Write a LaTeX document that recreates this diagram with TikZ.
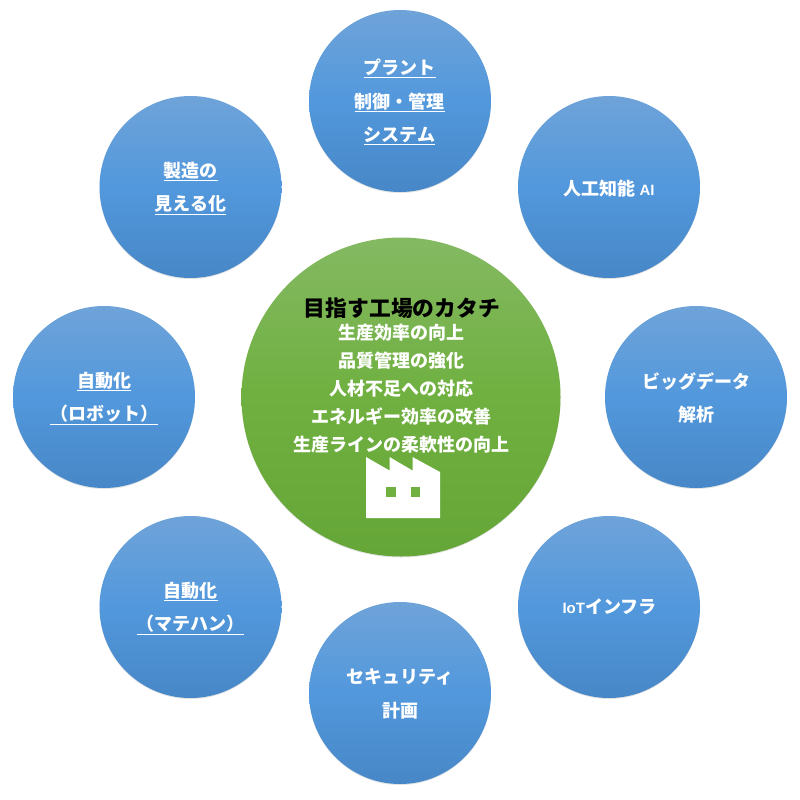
\documentclass[tikz,border=0pt]{standalone}
\usepackage{fontspec}
\setmainfont{Liberation Sans}
\newfontfamily\cjk{Noto Sans CJK JP}
\newfontfamily\latinb{Liberation Sans}
\definecolor{bbot}{HTML}{4787C7}
\definecolor{bmid}{HTML}{5298DC}
\definecolor{btop}{HTML}{6FA3D9}
\definecolor{gbot}{HTML}{65A638}
\definecolor{gmid}{HTML}{6FB040}
\definecolor{gtop}{HTML}{84B962}
\definecolor{shadowc}{HTML}{808080}
\pgfdeclareverticalshading{bluegrad}{100bp}{color(0bp)=(bbot); color(25bp)=(bbot); color(50bp)=(bmid); color(75bp)=(btop); color(100bp)=(btop)}
\pgfdeclareverticalshading{greengrad}{100bp}{color(0bp)=(gbot); color(25bp)=(gbot); color(50bp)=(gmid); color(75bp)=(gtop); color(100bp)=(gtop)}
\newcommand{\ul}[1]{\underline{#1}}
\newcommand{\smalltext}[1]{{\latinb\bfseries\fontsize{15}{33.5}\selectfont #1}}
\tikzset{
  softshadow/.style={preaction={fill=shadowc,fill opacity=.22,transform canvas={yshift=-1pt}}},
  bluecircle/.style={circle,inner sep=0pt,minimum size=182pt,shading=bluegrad,softshadow},
  bluelabel/.style={inner sep=0pt,text=white,align=center,font=\cjk\bfseries\fontsize{18}{33.5}\selectfont},
  greencircle/.style={circle,inner sep=0pt,minimum size=319pt,shading=greengrad,softshadow},
  titletext/.style={inner sep=0pt,text=black,font=\cjk\bfseries\fontsize{21.8}{26}\selectfont},
  bodytext/.style={inner sep=0pt,text=white,align=center,font=\cjk\bfseries\fontsize{18}{28}\selectfont},
}
\begin{document}
\begin{tikzpicture}[x=1pt,y=-1pt]
\useasboundingbox (0,0) rectangle (800,800);
\fill[white] (0,0) rectangle (800,800);
\node[greencircle] (center) at (401,397) {};
\node[titletext] (title) at (402,308.5) {目指す工場のカタチ};
\node[bodytext] (body) at (401.5,389) {生産効率の向上\\品質管理の強化\\人材不足への対応\\エネルギー効率の改善\\生産ラインの柔軟性の向上};
\fill[white] (366,457) -- (389.5,470.5) -- (389.5,457) -- (412.5,470.5) -- (412.5,457) -- (440,472) -- (440,518) -- (366,518) -- cycle;
\fill[gmid] (386,487) rectangle (395.5,497);
\fill[gmid] (410.5,487) rectangle (420,497);
\node[bluecircle] (plant) at (400,101) {};
\node[bluelabel] (plantlabel) at (399.5,102) {\ul{プラント}\\\ul{制御・管理}\\\ul{システム}};
\node[bluecircle] (ai) at (609,187) {};
\node[bluelabel] (ailabel) at (609,189) {人工知能 \smalltext{AI}};
\node[bluecircle] (bigdata) at (696,397) {};
\node[bluelabel] (bigdatalabel) at (696,398) {ビッグデータ\\解析};
\node[bluecircle] (iot) at (609,607) {};
\node[bluelabel] (iotlabel) at (609.5,606.5) {\smalltext{IoT}インフラ};
\node[bluecircle] (security) at (400,693) {};
\node[bluelabel] (securitylabel) at (400,694) {セキュリティ\\計画};
\node[bluecircle] (matehan) at (190.5,607) {};
\node[bluelabel] (matehanlabel) at (190.5,608) {\ul{自動化}\\\ul{（マテハン）}};
\node[bluecircle] (robot) at (104,397) {};
\node[bluelabel] (robotlabel) at (104,398) {\ul{自動化}\\\ul{（ロボット）}};
\node[bluecircle] (mieru) at (190.5,187) {};
\node[bluelabel] (mierulabel) at (190.5,188) {\ul{製造の}\\\ul{見える化}};
\end{tikzpicture}
\end{document}
